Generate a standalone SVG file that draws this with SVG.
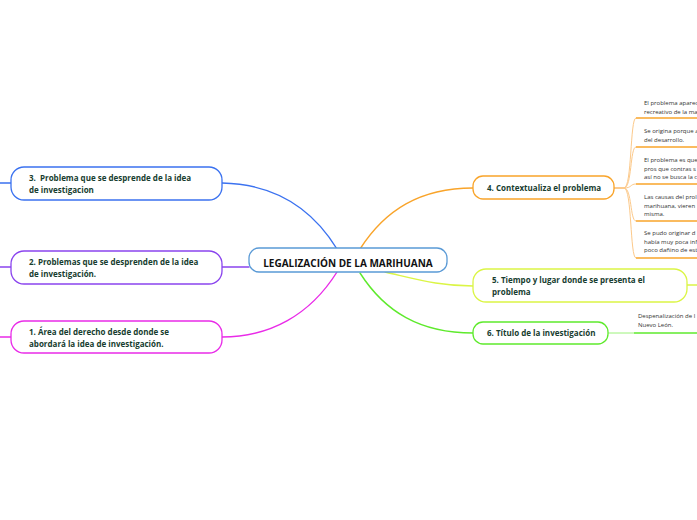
<svg xmlns="http://www.w3.org/2000/svg" width="697" height="520" viewBox="0 0 697 520">
<style>
.node{fill:#fff;stroke-width:1.3}
.t{font-family:"Open Sans","Noto Sans",sans-serif;font-weight:bold;font-size:8px;fill:#173d2f}
.c{font-family:"Open Sans","Noto Sans",sans-serif;font-weight:bold;font-size:10px;fill:#111}
.l{font-family:"Open Sans","Noto Sans",sans-serif;font-size:6px;fill:#333}
.con{fill:none;stroke-width:1.4;stroke-linecap:round}
</style>
<rect width="697" height="520" fill="#fff"/>
<g id="connectors">
<path class="con" stroke="#3b72f0" d="M337,249 C310,205 270,184 222,183"/>
<path class="con" stroke="#8a44ee" d="M249,267 L222,267"/>
<path class="con" stroke="#e92be8" d="M337,272 C310,315 270,337 222,337"/>
<path class="con" stroke="#f9a42a" d="M360,249 C385,210 420,188 473,188"/>
<path class="con" stroke="#dbf545" d="M385,272 C420,280 440,286 473,286"/>
<path class="con" stroke="#5eea2c" d="M360,273 C385,312 420,333 473,333"/>
<path class="con" stroke="#3b72f0" stroke-width="1" d="M11,183 L0,183"/>
<path class="con" stroke="#8a44ee" stroke-width="1" d="M11,267 L0,267"/>
<path class="con" stroke="#e92be8" stroke-width="1" d="M11,337 L0,337"/>
<path class="con" stroke="#dbf545" stroke-width="1" d="M687,285 L697,285"/>
<g stroke="#fcc98a" stroke-width="1" fill="none">
<path d="M614,188 L624,188 C632,188 630,118 636,118"/>
<path d="M614,188 L624,188 C632,188 630,147 636,147"/>
<path d="M614,188 L624,188 C632,188 630,184 636,184"/>
<path d="M614,188 L624,188 C632,188 630,221 636,221"/>
<path d="M614,188 L624,188 C632,188 630,258 636,258"/>
</g>
<g stroke="#f9a42a" stroke-width="1.3">
<line x1="636" y1="118" x2="697" y2="118"/>
<line x1="636" y1="147" x2="697" y2="147"/>
<line x1="636" y1="184" x2="697" y2="184"/>
<line x1="636" y1="221" x2="697" y2="221"/>
<line x1="636" y1="258" x2="697" y2="258"/>
</g>
<path stroke="#9cf27a" stroke-width="1" d="M608,333 L634,333"/>
<line x1="634" y1="333" x2="697" y2="333" stroke="#5eea2c" stroke-width="1.5"/>
</g>
<g id="central">
<rect class="node" x="249" y="248" width="198" height="24" rx="10" stroke="#5a9ad6"/>
<text class="c" x="348" y="266.5" text-anchor="middle">LEGALIZACIÓN DE LA MARIHUANA</text>
</g>
<g id="n3">
<rect class="node" x="11" y="167" width="211" height="33" rx="13" stroke="#3b72f0"/>
<text class="t" x="29" y="181">3.&#160; Problema que se desprende de la idea</text>
<text class="t" x="29" y="192.5">de investigacion</text>
</g>
<g id="n2">
<rect class="node" x="11" y="251" width="211" height="33" rx="13" stroke="#8a44ee"/>
<text class="t" x="29" y="265">2. Problemas que se desprenden de la idea</text>
<text class="t" x="29" y="276.5">de investigación.</text>
</g>
<g id="n1">
<rect class="node" x="11" y="321" width="211" height="32" rx="13" stroke="#e92be8"/>
<text class="t" x="29" y="335">1. Área del derecho desde donde se</text>
<text class="t" x="29" y="346.5">abordará la idea de investigación.</text>
</g>
<g id="n4">
<rect class="node" x="473" y="176" width="141" height="23" rx="10" stroke="#f9a42a"/>
<text class="t" x="487" y="191">4. Contextualiza el problema</text>
</g>
<g id="n5">
<rect class="node" x="473" y="269" width="214" height="33" rx="13" stroke="#dbf545"/>
<text class="t" x="492" y="283">5. Tiempo y lugar donde se presenta el</text>
<text class="t" x="492" y="294.5">problema</text>
</g>
<g id="n6">
<rect class="node" x="473" y="322" width="135" height="22" rx="10" stroke="#5eea2c"/>
<text class="t" x="487" y="336">6. Título de la investigación</text>
</g>
<g id="leaf1"><text class="l" x="644" y="105">El problema aparece</text><text class="l" x="644" y="113.5">recreativo de la ma</text></g>
<g id="leaf2"><text class="l" x="644" y="133">Se origina porque a</text><text class="l" x="644" y="141.5">del desarrollo.</text></g>
<g id="leaf3"><text class="l" x="644" y="162">El problema es que</text><text class="l" x="644" y="170.5">pros que contras s</text><text class="l" x="644" y="179">así no se busca la c</text></g>
<g id="leaf4"><text class="l" x="644" y="199">Las causas del prol</text><text class="l" x="644" y="207.5">marihuana, vieren</text><text class="l" x="644" y="216">misma.</text></g>
<g id="leaf5"><text class="l" x="644" y="235">Se pudo originar d</text><text class="l" x="644" y="243.5">había muy poca inf</text><text class="l" x="644" y="252">poco dañino de est</text></g>
<g id="leaf6"><text class="l" x="638" y="318">Despenalización de l</text><text class="l" x="638" y="327">Nuevo León.</text></g>
</svg>
